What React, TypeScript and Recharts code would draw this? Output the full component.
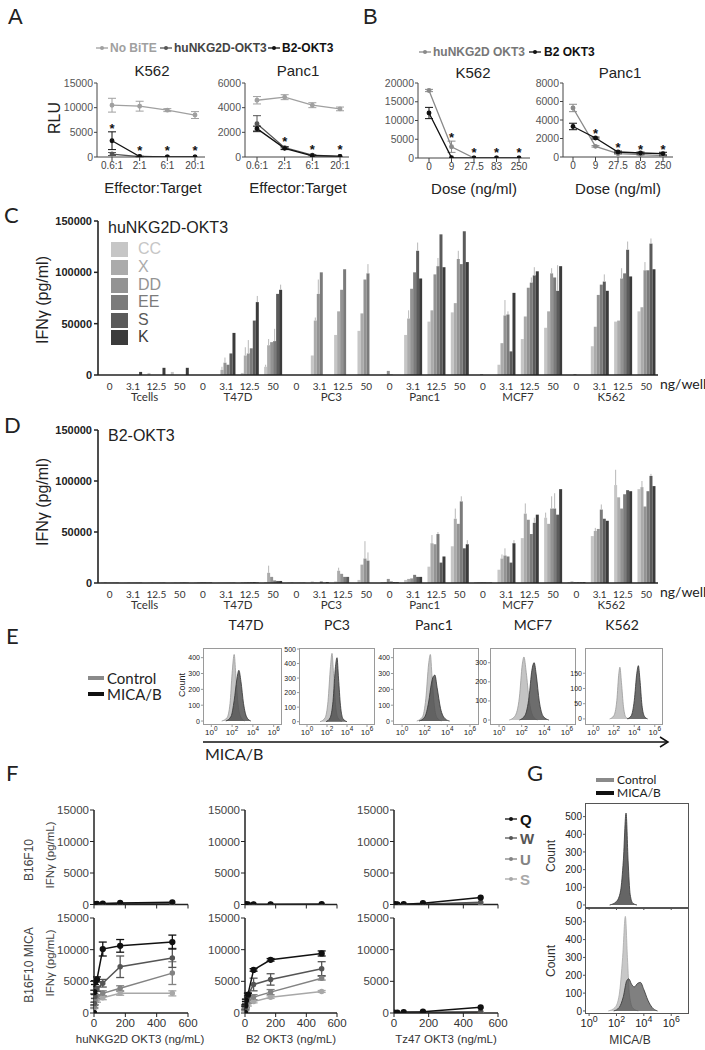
import React from 'react';
import { LineChart, Line, BarChart, Bar, AreaChart, Area, XAxis, YAxis, ErrorBar } from 'recharts';

const SANS = "'Liberation Sans', Arial, Helvetica, sans-serif";
const CAL = "Lato, 'Liberation Sans', sans-serif";
const M = 10;

// ================= Panel A =================
const A_CATS = ['0.6:1', '2:1', '6:1', '20:1'];
const aK562NoBite = [10500, 10300, 9500, 8500];
const aK562NoBiteErr = [1400, 1000, 300, 700];
const aK562Hu = [600, 50, 0, 0];
const aK562HuErr = [300, 0, 0, 0];
const aK562B2 = [3300, 100, 0, 0];
const aK562B2Err = [1800, 50, 0, 0];
const aK562Star = [6100, 1600, 1600, 1600];
const aPancNoBite = [4600, 4850, 4200, 3900];
const aPancNoBiteErr = [300, 200, 200, 150];
const aPancHu = [2700, 750, 150, 50];
const aPancHuErr = [650, 100, 50, 0];
const aPancB2 = [2300, 700, 100, 50];
const aPancB2Err = [200, 100, 0, 0];
const aPancStar = [null, 1400, 700, 700];

// ================= Panel B =================
const B_CATS = ['0', '9', '27.5', '83', '250'];
const bK562Hu = [18000, 3000, 0, 0, 0];
const bK562HuErr = [300, 1500, 0, 0, 0];
const bK562B2 = [12000, 100, 0, 0, 0];
const bK562B2Err = [1500, 0, 0, 0, 0];
const bK562Star = [null, 5900, 1800, 1800, 1800];
const bPancHu = [5300, 1150, 360, 250, 150];
const bPancHuErr = [400, 80, 50, 50, 50];
const bPancB2 = [3300, 2050, 540, 430, 360];
const bPancB2Err = [350, 100, 100, 100, 150];
const bPancStar = [null, 2660, 1220, 970, 970];

// ================= Panels C / D =================
const GROUPS = ['Tcells', 'T47D', 'PC3', 'Panc1', 'MCF7', 'K562'];
const DOSES = ['0', '3.1', '12.5', '50'];
const BAR_KEYS = ['CC', 'X', 'DD', 'EE', 'S', 'K'];
const BAR_COLORS = ['#c6c6c6', '#ababab', '#939393', '#7b7b7b', '#5b5b5b', '#3b3b3b'];

// order: Tcells(0,3.1,12.5,50), T47D, PC3, Panc1, MCF7, K562
const cCC = [0, 0, 2000, 3000, 0, 0, 2000, 8000, 0, 19000, 39000, 43000, 500, 39000, 52000, 61000, 0, 10000, 35000, 46000, 0, 28000, 52000, 62000];
const cX = [0, 0, 0, 0, 0, 5000, 19000, 29000, 0, 53000, 62000, 60000, 500, 55000, 63000, 70000, 0, 31000, 57000, 62000, 0, 47000, 53000, 66000];
const cDD = [0, 0, 0, 0, 0, 12000, 21000, 32000, 0, 79000, 83000, 93000, 4000, 84000, 98000, 113000, 1000, 58000, 85000, 99000, 1000, 78000, 94000, 102000];
const cEE = [0, 0, 0, 0, 0, 10000, 26000, 33000, 0, 100000, 103000, 99000, 500, 100000, 106000, 108000, 0, 59000, 90000, 95000, 0, 88000, 99000, 102000];
const cS = [0, 0, 0, 0, 0, 21000, 53000, 79000, 0, 0, 0, 0, 0, 121000, 137000, 140000, 0, 23000, 97000, 82000, 0, 91000, 122000, 128000];
const cK = [0, 3000, 7000, 7000, 0, 41000, 71000, 83000, 0, 0, 0, 0, 0, 94000, 105000, 110000, 0, 80000, 101000, 106000, 0, 82000, 96000, 103000];
const cCCErr = [0, 0, 0, 0, 0, 0, 0, 2000, 0, 0, 0, 0, 0, 0, 0, 0, 0, 0, 0, 0, 0, 0, 0, 0];
const cXErr = [0, 0, 0, 0, 0, 3000, 8000, 6000, 0, 3000, 0, 0, 0, 8000, 0, 0, 0, 0, 0, 0, 0, 0, 0, 0];
const cDDErr = [0, 0, 0, 0, 0, 5000, 13000, 0, 0, 14000, 0, 0, 0, 0, 0, 8000, 0, 15000, 0, 5000, 0, 0, 10000, 8000];
const cEEErr = [0, 0, 0, 0, 0, 0, 0, 12000, 0, 0, 0, 9000, 0, 0, 8000, 0, 0, 3000, 5000, 0, 0, 0, 0, 0];
const cSErr = [0, 0, 0, 0, 0, 0, 0, 0, 0, 0, 0, 0, 0, 8000, 0, 0, 0, 0, 8000, 25000, 0, 7000, 8000, 5000];
const cKErr = [0, 0, 0, 0, 0, 0, 6000, 5000, 0, 0, 0, 0, 0, 0, 0, 0, 0, 0, 0, 0, 0, 0, 0, 0];

const dCC = [500, 300, 300, 300, 500, 300, 1000, 1000, 500, 1500, 1500, 3000, 1000, 3000, 16000, 36000, 1000, 13000, 44000, 64000, 1000, 46000, 96000, 92000];
const dX = [800, 500, 500, 500, 800, 300, 1000, 10000, 800, 500, 12000, 18000, 1000, 4000, 39000, 63000, 1000, 24000, 68000, 58000, 1500, 51000, 84000, 94000];
const dDD = [300, 300, 300, 300, 1000, 300, 1000, 6000, 300, 300, 9000, 24000, 4000, 4500, 38000, 58000, 1000, 27000, 62000, 73000, 1000, 53000, 73000, 75000];
const dEE = [300, 300, 300, 500, 800, 300, 1000, 2500, 300, 1500, 6000, 22000, 1500, 8000, 48000, 80000, 800, 26000, 48000, 73000, 1000, 72000, 87000, 90000];
const dS = [300, 300, 300, 500, 500, 300, 1000, 2000, 300, 300, 6000, 0, 1000, 6000, 20000, 34000, 500, 20000, 59000, 67000, 800, 63000, 91000, 105000];
const dK = [300, 300, 300, 300, 500, 300, 500, 2000, 300, 1000, 0, 0, 800, 6000, 26000, 38000, 500, 39000, 67000, 92000, 800, 61000, 90000, 95000];
const dCCErr = [0, 0, 0, 0, 0, 0, 0, 0, 0, 0, 0, 0, 0, 0, 0, 0, 0, 0, 0, 5000, 0, 0, 15000, 0];
const dXErr = [0, 0, 0, 0, 0, 0, 0, 7000, 0, 0, 3000, 0, 0, 0, 8000, 10000, 0, 4000, 10000, 0, 0, 3000, 0, 6000];
const dDDErr = [0, 0, 0, 0, 0, 0, 0, 0, 0, 0, 0, 17000, 0, 0, 0, 0, 0, 7000, 0, 12000, 0, 0, 0, 0];
const dEEErr = [0, 0, 0, 0, 0, 0, 0, 0, 0, 0, 0, 8000, 0, 0, 2000, 5000, 0, 0, 0, 15000, 0, 5000, 0, 0];
const dSErr = [0, 0, 0, 0, 0, 0, 0, 0, 0, 0, 0, 0, 0, 0, 0, 0, 0, 0, 5000, 0, 0, 0, 0, 2000];
const dKErr = [0, 0, 0, 0, 0, 0, 0, 0, 0, 0, 0, 0, 0, 0, 0, 4000, 0, 3000, 0, 0, 0, 0, 0, 0];

// ================= Panel E (log10 MICA/B, count) =================
const E_TITLES = ['T47D', 'PC3', 'Panc1', 'MCF7', 'K562'];
const eT47DCtrl = [[1.0, 0], [1.5, 20], [1.8, 110], [2.0, 300], [2.2, 420], [2.35, 300], [2.55, 120], [2.8, 30], [3.2, 0]];
const eT47DMica = [[1.4, 0], [1.9, 30], [2.2, 130], [2.45, 260], [2.65, 320], [2.85, 250], [3.1, 110], [3.4, 25], [3.8, 0]];
const ePC3Ctrl = [[1.3, 0], [1.8, 25], [2.1, 140], [2.35, 380], [2.5, 470], [2.65, 330], [2.85, 120], [3.1, 25], [3.5, 0]];
const ePC3Mica = [[1.9, 0], [2.3, 25], [2.6, 140], [2.85, 380], [3.0, 440], [3.15, 300], [3.35, 110], [3.6, 20], [4.0, 0]];
const ePancCtrl = [[1.3, 0], [1.8, 25], [2.1, 140], [2.35, 360], [2.5, 420], [2.65, 280], [2.85, 100], [3.1, 20], [3.5, 0]];
const ePancMica = [[1.5, 0], [2.0, 25], [2.35, 120], [2.6, 240], [2.75, 280], [2.9, 290], [3.1, 210], [3.4, 80], [3.8, 15], [4.2, 0]];
const eMCF7Ctrl = [[0.9, 0], [1.4, 20], [1.8, 120], [2.05, 290], [2.2, 330], [2.4, 250], [2.65, 110], [3.0, 20], [3.4, 0]];
const eMCF7Mica = [[1.8, 0], [2.3, 25], [2.65, 120], [2.9, 260], [3.1, 300], [3.3, 230], [3.55, 100], [3.9, 20], [4.4, 0]];
const eK562Ctrl = [[1.6, 0], [2.0, 10], [2.3, 60], [2.5, 150], [2.6, 170], [2.75, 120], [2.95, 40], [3.2, 5], [3.5, 0]];
const eK562Mica = [[3.3, 0], [3.7, 10], [4.0, 60], [4.25, 150], [4.4, 175], [4.55, 130], [4.75, 45], [5.0, 8], [5.3, 0]];
const LOG_TICKS = [0, 2, 4, 6];

// ================= Panel F =================
const F_X = [0, 2, 6, 19, 56, 167, 500];
const fHuTopQ = [0, 0, 50, 100, 150, 250, 350];
const fHuTopW = [0, 0, 0, 50, 100, 150, 250];
const fHuTopU = [0, 0, 0, 0, 50, 100, 150];
const fHuTopS = [0, 0, 0, 0, 0, 50, 100];
const fB2TopQ = [0, 0, 0, 0, 0, 0, 50];
const fB2TopW = [0, 0, 0, 0, 0, 0, 0];
const fB2TopU = [0, 0, 0, 0, 0, 0, 0];
const fB2TopS = [0, 0, 0, 0, 0, 0, 0];
const fTzTopQ = [0, 0, 0, 0, 50, 200, 1100];
const fTzTopW = [0, 0, 0, 0, 0, 50, 350];
const fTzTopU = [0, 0, 0, 0, 0, 50, 250];
const fTzTopS = [0, 0, 0, 0, 0, 0, 150];
const fHuBotQ = [0, 3300, 4800, 5300, 10100, 10600, 11200];
const fHuBotW = [0, 1500, 2600, 3800, 4700, 7300, 8700];
const fHuBotU = [0, 1000, 2000, 2600, 3100, 3900, 6300];
const fHuBotS = [0, 800, 1500, 2000, 2400, 3100, 3100];
const fHuBotQErr = [0, 300, 300, 400, 1100, 1000, 1100];
const fHuBotWErr = [0, 200, 300, 400, 600, 1700, 1500];
const fHuBotUErr = [0, 200, 300, 300, 400, 400, 1800];
const fHuBotSErr = [0, 100, 200, 300, 300, 300, 400];
const fB2BotQ = [0, 1200, 2000, 2900, 6800, 8400, 9400];
const fB2BotW = [0, 800, 1800, 2800, 4500, 5300, 7000];
const fB2BotU = [0, 500, 1100, 1800, 2500, 3300, 5500];
const fB2BotS = [0, 400, 800, 1300, 1800, 2500, 3400];
const fB2BotQErr = [0, 100, 200, 200, 200, 200, 400];
const fB2BotWErr = [0, 200, 300, 400, 1000, 900, 1100];
const fB2BotUErr = [0, 100, 200, 300, 400, 400, 300];
const fB2BotSErr = [0, 100, 100, 200, 200, 200, 150];
const fTzBotQ = [0, 0, 0, 50, 150, 200, 900];
const fTzBotW = [0, 0, 0, 0, 50, 100, 200];
const fTzBotU = [0, 0, 0, 0, 0, 50, 150];
const fTzBotS = [0, 0, 0, 0, 0, 0, 100];
const F_KEYS = ['S', 'U', 'W', 'Q'];
const F_COLORS: Record<string, string> = { Q: '#111111', W: '#555555', U: '#838383', S: '#a8a8a8' };

// ================= Panel G =================
const gTopMica = [[1.5, 0], [2.0, 20], [2.3, 80], [2.5, 250], [2.7, 520], [2.85, 250], [3.0, 60], [3.2, 10], [3.5, 0]];
const gBotCtrl = [[1.4, 0], [1.9, 20], [2.2, 90], [2.45, 300], [2.65, 530], [2.8, 300], [2.95, 90], [3.2, 15], [3.6, 0]];
const gBotMica = [[1.8, 0], [2.2, 20], [2.5, 80], [2.75, 170], [2.9, 180], [3.1, 150], [3.3, 135], [3.55, 155], [3.75, 160], [4.0, 120], [4.3, 60], [4.6, 20], [5.0, 0]];
const G_YTICKS = [0, 100, 200, 300, 400, 500];

// ================= helpers =================
function place(x0: number, y0: number, x1: number, y1: number, yw: number, xh: number) {
  return { left: x0 - yw - M, top: y0 - M, width: x1 - x0 + yw + 2 * M, height: y1 - y0 + xh + 2 * M };
}

function T({ x, y, s, c = '#222', w = 'normal', f = SANS, a = 'start', r = 0, children }: any) {
  const tx = a === 'middle' ? '-50%' : a === 'end' ? '-100%' : '0';
  return (
    <div style={{ position: 'absolute', left: x, top: y, fontSize: s, color: c, fontWeight: w, fontFamily: f, lineHeight: 1, whiteSpace: 'nowrap', transform: `translate(${tx},-50%) rotate(${r}deg)` }}>
      {children}
    </div>
  );
}

function LegMark({ x, y, c }: any) {
  return (
    <svg style={{ position: 'absolute', left: x - 6, top: y - 4 }} width={12} height={8}>
      <line x1={0} y1={4} x2={12} y2={4} stroke={c} strokeWidth={1.3} />
      <circle cx={6} cy={4} r={2} fill={c} />
    </svg>
  );
}

const StarDot = (p: any) => {
  const { cx, cy, index, value } = p;
  if (value == null || cy == null || isNaN(cy)) return <g key={'s' + index} />;
  return (
    <text key={'s' + index} x={cx} y={cy + 6} textAnchor="middle" fontSize={13} fontWeight="bold" fill="#111" fontFamily={SANS}>*</text>
  );
};

const EmptyTick = () => <g />;

const LogTick = (p: any) => {
  const { x, y, payload, fs } = p;
  return (
    <text x={x} y={y + fs} textAnchor="middle" fontSize={fs} fill="#222" fontFamily={SANS}>
      10<tspan dy={-fs * 0.45} fontSize={fs * 0.8}>{payload.value}</tspan>
    </text>
  );
};

const BAND = (658 - 98) / 24;
const DoseTick = (p: any) => {
  const { x, y, payload, index } = p;
  const [grp, dose] = String(payload.value).split('|');
  return (
    <g>
      <text x={x} y={y + 9} textAnchor="middle" fontSize={10} fill="#333" fontFamily={CAL}>{dose}</text>
      {index % 4 === 1 ? (
        <text x={x + BAND / 2} y={y + 20} textAnchor="middle" fontSize={11.5} fill="#333" fontFamily={CAL}>{grp}</text>
      ) : null}
    </g>
  );
};

function lineRows(cats: string[], cols: Record<string, any[]>) {
  return cats.map((c, i) => {
    const r: any = { c };
    Object.keys(cols).forEach((k) => { r[k] = cols[k][i]; });
    return r;
  });
}

function barRows(vals: number[][], errs: number[][]) {
  const rows: any[] = [];
  GROUPS.forEach((g, gi) => DOSES.forEach((d, di) => {
    const i = gi * 4 + di;
    const row: any = { cat: g + '|' + d };
    BAR_KEYS.forEach((k, ki) => { row[k] = vals[ki][i]; row[k + 'e'] = [0, errs[ki][i]]; });
    rows.push(row);
  }));
  return rows;
}

function histRows(series: Record<string, number[][]>) {
  const xs = Array.from(new Set(Object.values(series).flatMap((s) => s.map((p) => p[0])))).sort((a, b) => a - b);
  return xs.map((x) => {
    const row: any = { x };
    Object.keys(series).forEach((k) => {
      const pt = series[k].find((q) => q[0] === x);
      row[k] = pt ? pt[1] : null;
    });
    return row;
  });
}

function fRows(cols: Record<string, number[]>) {
  return F_X.map((x, i) => {
    const r: any = { x };
    Object.keys(cols).forEach((k) => { r[k] = cols[k][i]; });
    return r;
  });
}

// ================= chart components =================
function DoseLine({ box, rows, yMax, yTicks, series, padL, padR }: any) {
  const [x0, y0, x1, y1] = box;
  const yw = 36, xh = 22;
  const p = place(x0, y0, x1, y1, yw, xh);
  return (
    <div style={{ position: 'absolute', left: p.left, top: p.top }}>
      <LineChart width={p.width} height={p.height} data={rows} margin={{ top: M, right: M, bottom: M, left: M }}>
        <XAxis dataKey="c" type="category" interval={0} padding={{ left: padL, right: padR }} height={xh} tickSize={4} tickMargin={1}
          tick={{ fontSize: 10, fill: '#444', fontFamily: SANS }} axisLine={{ stroke: '#444' }} tickLine={{ stroke: '#444' }} />
        <YAxis type="number" domain={[0, yMax]} ticks={yTicks} interval={0} allowDataOverflow width={yw} tickSize={3} tickMargin={1}
          tick={{ fontSize: 10.5, fill: '#555', fontFamily: SANS }} axisLine={{ stroke: '#444' }} tickLine={{ stroke: '#444' }} />
        {series.map((s: any) => (
          <Line key={s.k} dataKey={s.k} stroke={s.c} strokeWidth={1.3} dot={{ r: 1.8, fill: s.c, stroke: s.c }} activeDot={false} isAnimationActive={false}>
            <ErrorBar dataKey={s.k + 'E'} width={4} stroke={s.c} strokeWidth={1} />
          </Line>
        ))}
        <Line dataKey="star" stroke="none" dot={StarDot} activeDot={false} isAnimationActive={false} />
      </LineChart>
    </div>
  );
}

function BarPanel({ box, rows }: any) {
  const [x0, y0, x1, y1] = box;
  const yw = 52, xh = 34;
  const p = place(x0, y0, x1, y1, yw, xh);
  return (
    <div style={{ position: 'absolute', left: p.left, top: p.top }}>
      <BarChart width={p.width} height={p.height} data={rows} margin={{ top: M, right: M, bottom: M, left: M }} barCategoryGap="12%" barGap={0}>
        <XAxis dataKey="cat" interval={0} height={xh} tickLine={false} tickSize={4} tickMargin={2} tick={<DoseTick />} axisLine={{ stroke: '#222', strokeWidth: 1.6 }} />
        <YAxis type="number" domain={[0, 150000]} ticks={[0, 50000, 100000, 150000]} interval={0} allowDataOverflow width={yw} tickSize={4} tickMargin={2}
          tick={{ fontSize: 11, fontWeight: 'bold', fill: '#222', fontFamily: SANS }} axisLine={{ stroke: '#222', strokeWidth: 1.6 }} tickLine={{ stroke: '#222', strokeWidth: 1.5 }} />
        {BAR_KEYS.map((k, i) => (
          <Bar key={k} dataKey={k} fill={BAR_COLORS[i]} isAnimationActive={false}>
            <ErrorBar dataKey={k + 'e'} width={0} stroke="#b8b8b8" strokeWidth={1} />
          </Bar>
        ))}
      </BarChart>
    </div>
  );
}

function HistPanel({ box, xDom, yDom, yTicks, rows, areas, fs, yw, xh, showX, frame }: any) {
  const [x0, y0, x1, y1] = box;
  const p = place(x0, y0, x1, y1, yw, xh);
  return (
    <>
      <div style={{ position: 'absolute', left: p.left, top: p.top }}>
        <AreaChart width={p.width} height={p.height} data={rows} margin={{ top: M, right: M, bottom: M, left: M }}>
          <XAxis type="number" dataKey="x" domain={xDom} ticks={LOG_TICKS} interval={0} allowDataOverflow height={xh} axisLine={false}
            tickSize={2} tickMargin={0} tickLine={{ stroke: frame }} tick={showX ? <LogTick fs={fs + 1} /> : <EmptyTick />} />
          <YAxis type="number" domain={yDom} ticks={yTicks} interval={0} allowDataOverflow width={yw} axisLine={false}
            tickSize={2} tickMargin={1} tickLine={{ stroke: frame }} tick={{ fontSize: fs, fill: '#222', fontFamily: SANS }} />
          {areas.map((a: any) => (
            <Area key={a.k} type="monotone" dataKey={a.k} connectNulls stroke={a.stroke} strokeWidth={0.8} fill={a.fill} fillOpacity={a.op}
              isAnimationActive={false} dot={false} activeDot={false} />
          ))}
        </AreaChart>
      </div>
      <div style={{ position: 'absolute', left: x0, top: y0, width: x1 - x0, height: y1 - y0, border: `1px solid ${frame}`, boxSizing: 'border-box' }} />
    </>
  );
}

function FPanel({ box, rows, showX, errs }: any) {
  const [x0, y0, x1, y1] = box;
  const yw = 42, xh = 20;
  const p = place(x0, y0, x1, y1, yw, xh);
  return (
    <div style={{ position: 'absolute', left: p.left, top: p.top }}>
      <LineChart width={p.width} height={p.height} data={rows} margin={{ top: M, right: M, bottom: M, left: M }}>
        <XAxis type="number" dataKey="x" domain={[0, 600]} ticks={[0, 200, 400, 600]} interval={0} allowDataOverflow height={xh} tickSize={4} tickMargin={2}
          tick={showX ? { fontSize: 11.5, fill: '#333', fontFamily: SANS } : <EmptyTick />} axisLine={{ stroke: '#222', strokeWidth: 1.5 }} tickLine={{ stroke: '#222' }} />
        <YAxis type="number" domain={[0, 15000]} ticks={[0, 5000, 10000, 15000]} interval={0} allowDataOverflow width={yw} tickSize={4} tickMargin={1}
          tick={{ fontSize: 11.5, fill: '#444', fontFamily: SANS }} axisLine={{ stroke: '#222', strokeWidth: 1.5 }} tickLine={{ stroke: '#222' }} />
        {F_KEYS.map((k) => (
          <Line key={k} dataKey={k} stroke={F_COLORS[k]} strokeWidth={1.5} dot={{ r: k === 'Q' ? 2.4 : 2, fill: F_COLORS[k], stroke: F_COLORS[k] }} activeDot={false} isAnimationActive={false}>
            {errs ? <ErrorBar dataKey={k + 'e'} width={4} stroke={F_COLORS[k]} strokeWidth={1.3} /> : null}
          </Line>
        ))}
      </LineChart>
    </div>
  );
}

// ================= data tables =================
const aK562Rows = lineRows(A_CATS, { nb: aK562NoBite, nbE: aK562NoBiteErr, hu: aK562Hu, huE: aK562HuErr, b2: aK562B2, b2E: aK562B2Err, star: aK562Star });
const aPancRows = lineRows(A_CATS, { nb: aPancNoBite, nbE: aPancNoBiteErr, hu: aPancHu, huE: aPancHuErr, b2: aPancB2, b2E: aPancB2Err, star: aPancStar });
const bK562Rows = lineRows(B_CATS, { hu: bK562Hu, huE: bK562HuErr, b2: bK562B2, b2E: bK562B2Err, star: bK562Star });
const bPancRows = lineRows(B_CATS, { hu: bPancHu, huE: bPancHuErr, b2: bPancB2, b2E: bPancB2Err, star: bPancStar });
const A_SERIES = [{ k: 'nb', c: '#a0a0a0' }, { k: 'hu', c: '#555555' }, { k: 'b2', c: '#111111' }];
const B_SERIES = [{ k: 'hu', c: '#8a8a8a' }, { k: 'b2', c: '#111111' }];

const cRows = barRows([cCC, cX, cDD, cEE, cS, cK], [cCCErr, cXErr, cDDErr, cEEErr, cSErr, cKErr]);
const dRows = barRows([dCC, dX, dDD, dEE, dS, dK], [dCCErr, dXErr, dDDErr, dEEErr, dSErr, dKErr]);

const E_AREAS = [
  { k: 'ctrl', fill: '#c4c4c4', stroke: '#9a9a9a', op: 1 },
  { k: 'mica', fill: '#4d4d4d', stroke: '#333333', op: 0.82 },
];
const E_PANELS = [
  { box: [203, 648, 282, 725], yDom: [-25, 461], yTicks: [0, 100, 200, 300, 400], ctrl: eT47DCtrl, mica: eT47DMica },
  { box: [299, 648, 375, 725], yDom: [-23, 507], yTicks: [0, 100, 200, 300, 400, 500], ctrl: ePC3Ctrl, mica: ePC3Mica },
  { box: [393, 648, 479, 725], yDom: [-25, 461], yTicks: [0, 100, 200, 300, 400], ctrl: ePancCtrl, mica: ePancMica },
  { box: [490, 648, 576, 725], yDom: [-26, 377], yTicks: [0, 100, 200, 300], ctrl: eMCF7Ctrl, mica: eMCF7Mica },
  { box: [585, 648, 663, 725], yDom: [-20, 233], yTicks: [0, 50, 100, 150], ctrl: eK562Ctrl, mica: eK562Mica },
];

const fHuTopRows = fRows({ Q: fHuTopQ, W: fHuTopW, U: fHuTopU, S: fHuTopS });
const fB2TopRows = fRows({ Q: fB2TopQ, W: fB2TopW, U: fB2TopU, S: fB2TopS });
const fTzTopRows = fRows({ Q: fTzTopQ, W: fTzTopW, U: fTzTopU, S: fTzTopS });
const fHuBotRows = fRows({ Q: fHuBotQ, W: fHuBotW, U: fHuBotU, S: fHuBotS, Qe: fHuBotQErr, We: fHuBotWErr, Ue: fHuBotUErr, Se: fHuBotSErr });
const fB2BotRows = fRows({ Q: fB2BotQ, W: fB2BotW, U: fB2BotU, S: fB2BotS, Qe: fB2BotQErr, We: fB2BotWErr, Ue: fB2BotUErr, Se: fB2BotSErr });
const fTzBotRows = fRows({ Q: fTzBotQ, W: fTzBotW, U: fTzBotU, S: fTzBotS });

const gTopRows = histRows({ mica: gTopMica });
const gBotRows = histRows({ ctrl: gBotCtrl, mica: gBotMica });

const C_LEGEND_Y = [249, 267, 285, 302, 320, 337];
const E_TITLE_X = [246, 337, 434, 533, 622];
const F_LEG_Y = [819, 838, 859, 879];

export default function App() {
  return (
    <div style={{ position: 'absolute', left: 0, top: 0, width: 705, height: 1050, background: '#fff', overflow: 'hidden', fontFamily: SANS }}>
      {/* ---------- A ---------- */}
      <T x={8} y={17} s={22}>A</T>
      <LegMark x={102} y={48} c="#a0a0a0" />
      <T x={110} y={48} s={12} w="bold" c="#a0a0a0">No BiTE</T>
      <LegMark x={166} y={48} c="#555" />
      <T x={174} y={48} s={12} w="bold" c="#444">huNKG2D-OKT3</T>
      <LegMark x={274} y={48} c="#111" />
      <T x={282} y={48} s={12} w="bold" c="#111">B2-OKT3</T>
      <T x={152} y={70} s={15} a="middle">K562</T>
      <T x={298} y={70} s={15} a="middle">Panc1</T>
      <T x={55} y={118} s={16} a="middle" r={-90}>RLU</T>
      <DoseLine box={[97, 83, 205, 157]} rows={aK562Rows} yMax={15000} yTicks={[0, 5000, 10000, 15000]} series={A_SERIES} padL={15} padR={10} />
      <DoseLine box={[245, 83, 349, 157]} rows={aPancRows} yMax={6000} yTicks={[0, 2000, 4000, 6000]} series={A_SERIES} padL={12} padR={9} />
      <T x={153} y={187} s={15} a="middle">Effector:Target</T>
      <T x={298} y={187} s={15} a="middle">Effector:Target</T>

      {/* ---------- B ---------- */}
      <T x={363} y={17} s={22}>B</T>
      <LegMark x={425} y={52} c="#8a8a8a" />
      <T x={433} y={52} s={12} w="bold" c="#777">huNKG2D OKT3</T>
      <LegMark x={535} y={52} c="#111" />
      <T x={544} y={52} s={12} w="bold" c="#111">B2 OKT3</T>
      <T x={473} y={72} s={15} a="middle">K562</T>
      <T x={620} y={72} s={15} a="middle">Panc1</T>
      <DoseLine box={[418, 83, 530, 158]} rows={bK562Rows} yMax={20000} yTicks={[0, 5000, 10000, 15000, 20000]} series={B_SERIES} padL={11} padR={11} />
      <DoseLine box={[563, 83, 673, 157]} rows={bPancRows} yMax={8000} yTicks={[0, 2000, 4000, 6000, 8000]} series={B_SERIES} padL={10} padR={10} />
      <T x={474} y={188} s={15} a="middle">Dose (ng/ml)</T>
      <T x={618} y={188} s={15} a="middle">Dose (ng/ml)</T>

      {/* ---------- C ---------- */}
      <T x={4} y={215} s={22} f={CAL}>C</T>
      <T x={43} y={300} s={16} a="middle" r={-90}>IFNγ (pg/ml)</T>
      <BarPanel box={[98, 221, 658, 375]} rows={cRows} />
      <T x={108} y={228} s={16}>huNKG2D-OKT3</T>
      {BAR_KEYS.map((k, i) => (
        <React.Fragment key={k}>
          <div style={{ position: 'absolute', left: 111, top: C_LEGEND_Y[i] - 7.5, width: 17, height: 15, background: BAR_COLORS[i] }} />
          <T x={138} y={C_LEGEND_Y[i]} s={16} c={BAR_COLORS[i]}>{k}</T>
        </React.Fragment>
      ))}
      <T x={660} y={384} s={14} f={CAL}>ng/well</T>

      {/* ---------- D ---------- */}
      <T x={4} y={425} s={22} f={CAL}>D</T>
      <T x={43} y={502} s={16} a="middle" r={-90}>IFNγ (pg/ml)</T>
      <BarPanel box={[98, 430, 658, 583]} rows={dRows} />
      <T x={108} y={436} s={16}>B2-OKT3</T>
      <T x={660} y={592} s={14} f={CAL}>ng/well</T>

      {/* ---------- E ---------- */}
      <T x={6} y={636} s={22} f={CAL}>E</T>
      <div style={{ position: 'absolute', left: 88, top: 676, width: 16, height: 4, background: '#8a8a8a' }} />
      <T x={107} y={678} s={15} f={CAL}>Control</T>
      <div style={{ position: 'absolute', left: 88, top: 692, width: 16, height: 4, background: '#111' }} />
      <T x={107} y={694} s={15} f={CAL}>MICA/B</T>
      <T x={182} y={685} s={9} a="middle" r={-90}>Count</T>
      {E_PANELS.map((e, i) => (
        <React.Fragment key={i}>
          <T x={E_TITLE_X[i]} y={625} s={14} a="middle" f={CAL}>{E_TITLES[i]}</T>
          <HistPanel box={e.box} xDom={[-0.8, 6.8]} yDom={e.yDom} yTicks={e.yTicks} rows={histRows({ ctrl: e.ctrl, mica: e.mica })}
            areas={E_AREAS} fs={7} yw={16} xh={14} showX frame="#9a9a9a" />
        </React.Fragment>
      ))}
      <svg style={{ position: 'absolute', left: 0, top: 0 }} width={705} height={1050} pointerEvents="none">
        <line x1={203} y1={742} x2={667} y2={742} stroke="#111" strokeWidth={1.5} />
        <polyline points="660,737 668,742 660,747" fill="none" stroke="#111" strokeWidth={1.5} />
      </svg>
      <T x={205} y={754} s={16} f={CAL}>MICA/B</T>

      {/* ---------- F ---------- */}
      <T x={6} y={773} s={22} f={CAL}>F</T>
      <T x={29} y={860} s={12} a="middle" r={-90} c="#444">B16F10</T>
      <T x={51} y={855} s={11.5} a="middle" r={-90} c="#444">IFNγ (pg/mL)</T>
      <T x={29} y={965} s={12} a="middle" r={-90} c="#444">B16F10 MICA</T>
      <T x={51} y={963} s={11.5} a="middle" r={-90} c="#444">IFNγ (pg/mL)</T>
      <FPanel box={[94, 809.5, 188, 904]} rows={fHuTopRows} />
      <FPanel box={[245, 809.5, 337, 904]} rows={fB2TopRows} />
      <FPanel box={[394, 809.5, 498, 904]} rows={fTzTopRows} />
      <FPanel box={[94, 918, 188, 1013]} rows={fHuBotRows} showX errs />
      <FPanel box={[245, 918, 337, 1013]} rows={fB2BotRows} showX errs />
      <FPanel box={[394, 918, 498, 1013]} rows={fTzBotRows} showX />
      <T x={140} y={1040} s={11.5} a="middle" c="#333">huNKG2D OKT3 (ng/mL)</T>
      <T x={291} y={1040} s={11.5} a="middle" c="#333">B2 OKT3 (ng/mL)</T>
      <T x={446} y={1040} s={11.5} a="middle" c="#333">Tz47 OKT3 (ng/mL)</T>
      {['Q', 'W', 'U', 'S'].map((k, i) => (
        <React.Fragment key={k}>
          <LegMark x={511} y={F_LEG_Y[i]} c={F_COLORS[k]} />
          <T x={520} y={F_LEG_Y[i]} s={15} w="bold" c={F_COLORS[k]}>{k}</T>
        </React.Fragment>
      ))}

      {/* ---------- G ---------- */}
      <T x={527} y={773} s={22} f={CAL}>G</T>
      <div style={{ position: 'absolute', left: 596, top: 778, width: 18, height: 4, background: '#8a8a8a' }} />
      <T x={617} y={780} s={12} f={CAL}>Control</T>
      <div style={{ position: 'absolute', left: 596, top: 791, width: 18, height: 4, background: '#111' }} />
      <T x={617} y={793} s={12} f={CAL}>MICA/B</T>
      <T x={551} y={856} s={12} a="middle" r={-90} c="#333">Count</T>
      <T x={551} y={961} s={12} a="middle" r={-90} c="#333">Count</T>
      <HistPanel box={[585, 803, 689, 908]} xDom={[-0.3, 7.3]} yDom={[-17, 577]} yTicks={G_YTICKS} rows={gTopRows}
        areas={[{ k: 'mica', fill: '#4a4a4a', stroke: '#333', op: 0.85 }]} fs={10} yw={24} xh={20} showX={false} frame="#555" />
      <HistPanel box={[585, 908, 689, 1014]} xDom={[-0.3, 7.3]} yDom={[-17, 577]} yTicks={G_YTICKS} rows={gBotRows}
        areas={[{ k: 'ctrl', fill: '#c8c8c8', stroke: '#aaa', op: 1 }, { k: 'mica', fill: '#4a4a4a', stroke: '#333', op: 0.7 }]} fs={10} yw={24} xh={20} showX frame="#555" />
      <T x={630} y={1040} s={12} a="middle" c="#333">MICA/B</T>
    </div>
  );
}
